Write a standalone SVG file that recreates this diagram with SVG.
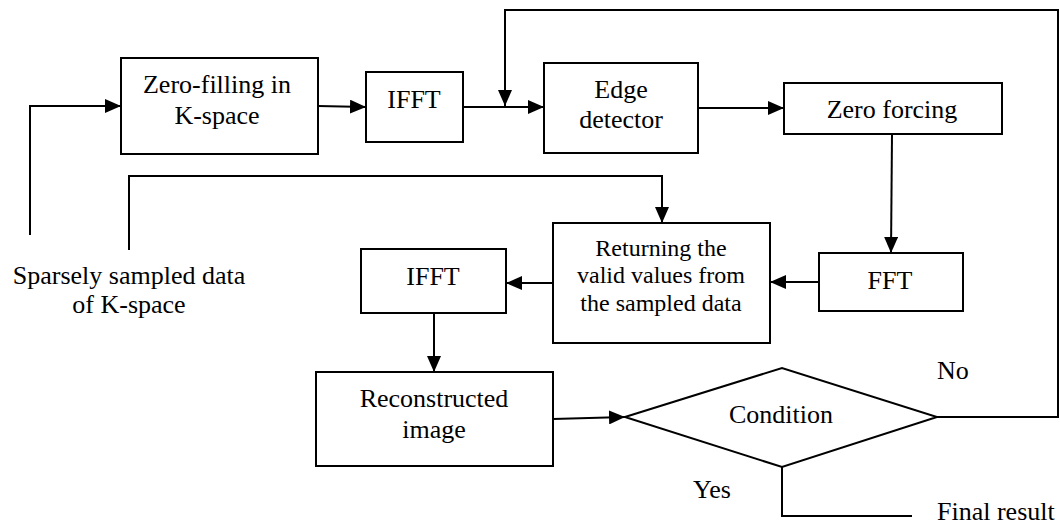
<svg xmlns="http://www.w3.org/2000/svg" width="1060" height="525" viewBox="0 0 1060 525">
<style>
.box{fill:#fff;stroke:#000;stroke-width:2}
.ln{fill:none;stroke:#000;stroke-width:2}
text{font-family:'Liberation Serif',serif;font-size:26px;fill:#000;text-anchor:middle}
.s{font-size:24px}
.l{text-anchor:start}
</style>
<defs>
<marker id="ah" markerUnits="userSpaceOnUse" markerWidth="16" markerHeight="14" refX="16" refY="7" orient="auto">
<path d="M0,0 L16,7 L0,14 z" fill="#000"/>
</marker>
</defs>
<rect width="1060" height="525" fill="#fff"/>
<g id="connectors">
<path class="ln" d="M30,235 V106 H121" marker-end="url(#ah)"/>
<path class="ln" d="M318,106 L366,107" marker-end="url(#ah)"/>
<path class="ln" d="M463,107 H544" marker-end="url(#ah)"/>
<path class="ln" d="M937,417 H1058 V10 H505 V106" marker-end="url(#ah)"/>
<path class="ln" d="M698,108 H784" marker-end="url(#ah)"/>
<path class="ln" d="M892,134 L891,253" marker-end="url(#ah)"/>
<path class="ln" d="M819,282 H770" marker-end="url(#ah)"/>
<path class="ln" d="M129,250 V176 H662 V223" marker-end="url(#ah)"/>
<path class="ln" d="M553,283 H506" marker-end="url(#ah)"/>
<path class="ln" d="M434,313 V372" marker-end="url(#ah)"/>
<path class="ln" d="M553,419 L625,417" marker-end="url(#ah)"/>
<path class="ln" d="M782,467 V516 H912"/>
</g>
<g id="sparse" font-family="Liberation Serif, serif">
<text x="129" y="284">Sparsely sampled data</text>
<text x="129" y="313">of K-space</text>
</g>
<g id="zerofill" font-family="Liberation Serif, serif">
<rect class="box" x="121" y="58" width="197" height="96"/>
<text x="217" y="93">Zero-filling in</text>
<text x="217" y="124">K-space</text>
</g>
<g id="ifft1" font-family="Liberation Serif, serif">
<rect class="box" x="366" y="72" width="97" height="70"/>
<text x="414" y="108">IFFT</text>
</g>
<g id="edge" font-family="Liberation Serif, serif">
<rect class="box" x="544" y="63" width="154" height="90"/>
<text x="621" y="98">Edge</text>
<text x="621" y="128">detector</text>
</g>
<g id="zeroforcing" font-family="Liberation Serif, serif">
<rect class="box" x="784" y="83" width="218" height="51"/>
<text x="892" y="118">Zero forcing</text>
</g>
<g id="fft" font-family="Liberation Serif, serif">
<rect class="box" x="819" y="253" width="144" height="58"/>
<text x="890" y="289">FFT</text>
</g>
<g id="returning" font-family="Liberation Serif, serif">
<rect class="box" x="553" y="223" width="217" height="120"/>
<text class="s" x="661" y="256">Returning the</text>
<text class="s" x="661" y="283">valid values from</text>
<text class="s" x="661" y="311">the sampled data</text>
</g>
<g id="ifft2" font-family="Liberation Serif, serif">
<rect class="box" x="361" y="249" width="145" height="64"/>
<text x="433" y="285">IFFT</text>
</g>
<g id="reconstructed" font-family="Liberation Serif, serif">
<rect class="box" x="316" y="372" width="237" height="94"/>
<text x="434" y="407">Reconstructed</text>
<text x="434" y="438">image</text>
</g>
<g id="condition" font-family="Liberation Serif, serif">
<polygon class="box" points="625,417 782,368 937,417 782,467"/>
<text x="781" y="423">Condition</text>
</g>
<g id="labels" font-family="Liberation Serif, serif">
<text class="l" x="937" y="379">No</text>
<text class="l" x="693" y="498">Yes</text>
<text class="l" x="937" y="520">Final result</text>
</g>
</svg>
